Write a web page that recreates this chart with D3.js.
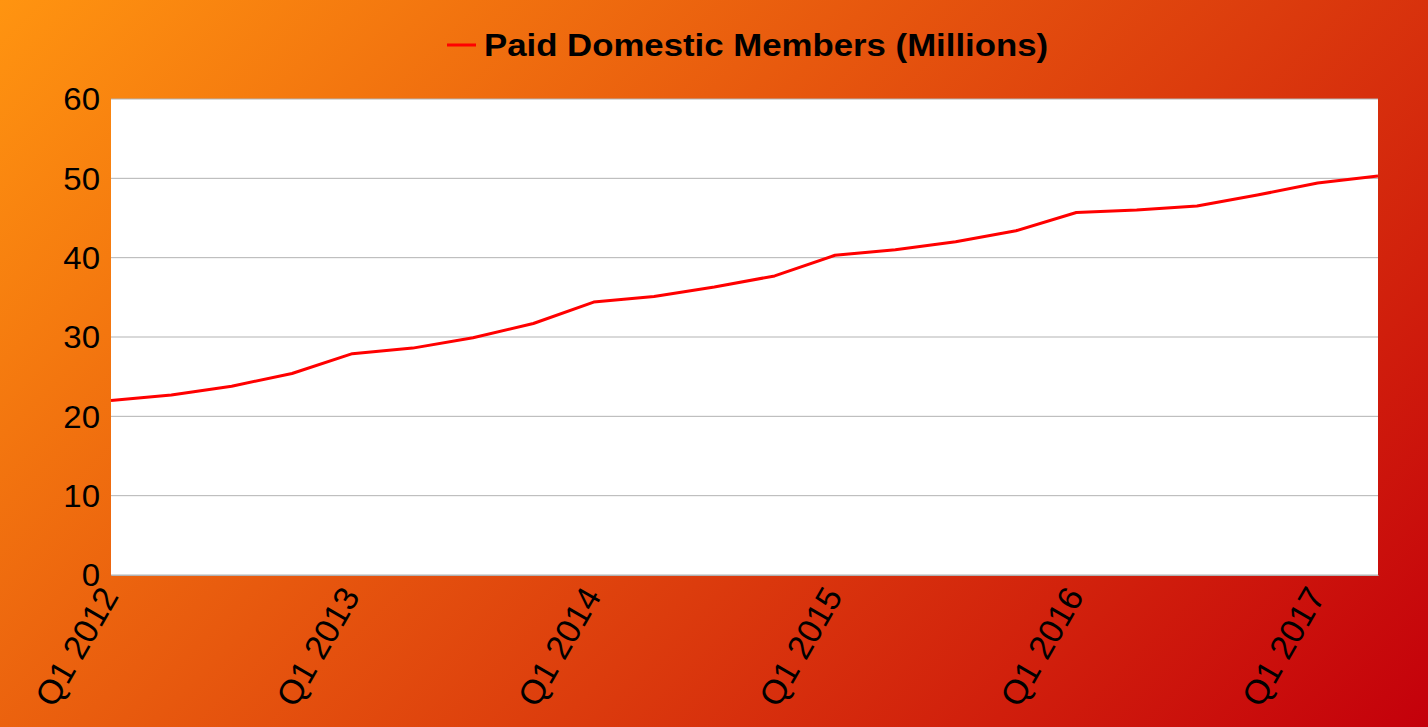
<!DOCTYPE html>
<html><head><meta charset="utf-8">
<script src="https://cdn.jsdelivr.net/npm/d3@7"></script>
<style>html,body{margin:0;padding:0;overflow:hidden;}svg{display:block;}</style>
</head><body>
<script>
const quarters = ["Q1 2012","Q2 2012","Q3 2012","Q4 2012","Q1 2013","Q2 2013","Q3 2013","Q4 2013","Q1 2014","Q2 2014","Q3 2014","Q4 2014","Q1 2015","Q2 2015","Q3 2015","Q4 2015","Q1 2016","Q2 2016","Q3 2016","Q4 2016","Q1 2017","Q2 2017"];
const members = [22.0,22.7,23.8,25.4,27.9,28.6,29.9,31.7,34.4,35.1,36.3,37.7,40.3,41.0,42.0,43.4,45.7,46.0,46.5,47.9,49.4,50.3];
const shownLabels = ["Q1 2012","Q1 2013","Q1 2014","Q1 2015","Q1 2016","Q1 2017"];
const yTicks = [0,10,20,30,40,50,60];
const seriesName = "Paid Domestic Members (Millions)";

const W = 1428, H = 727;
const L = 111, R = 1378, T = 99, B = 575;
const FONT = "Liberation Sans, Arial, sans-serif";
const svg = d3.select("body").append("svg").attr("width", W).attr("height", H);
const defs = svg.append("defs");
const g = defs.append("linearGradient").attr("id","bg").attr("gradientUnits","userSpaceOnUse")
  .attr("x1",0).attr("y1",0).attr("x2",1077).attr("y2",1077);
g.append("stop").attr("offset","0").attr("stop-color","#ff9410");
g.append("stop").attr("offset","1").attr("stop-color","#c4000b");
svg.append("rect").attr("width",W).attr("height",H).attr("fill","url(#bg)");

const x = d3.scalePoint().domain(quarters).range([L, R]);
const y = d3.scaleLinear().domain([0,60]).range([B, T]);

svg.append("rect").attr("x",L).attr("y",T).attr("width",R-L).attr("height",B-T).attr("fill","#fff");

svg.append("g").selectAll("line").data(yTicks).join("line")
  .attr("x1",L).attr("x2",R).attr("y1",d=>y(d)).attr("y2",d=>y(d))
  .attr("stroke","#b3b3b3").attr("stroke-width",1);

// y labels
svg.append("g").selectAll("text").data(yTicks).join("text")
  .attr("transform", d => `translate(100,${y(d)}) scale(1.064,1)`)
  .attr("text-anchor","end").attr("dy","0.36em")
  .attr("font-family",FONT).attr("font-size",31).attr("fill","#000")
  .text(d => d);

const xAxis = svg.append("g").attr("transform",`translate(0,${B})`)
  .call(d3.axisBottom(x).tickValues(shownLabels).tickSize(0));
xAxis.select(".domain").attr("stroke","#b3b3b3");
xAxis.selectAll("text")
  .attr("font-family",FONT).attr("font-size",34).attr("fill","#000")
  .attr("text-anchor","end").attr("dy",0).attr("y",0)
  .attr("transform","translate(8,21) rotate(-60)");

const line = d3.line().x((d,i)=>x(quarters[i])).y(d=>y(d));
svg.append("path").datum(members).attr("d",line).attr("fill","none")
  .attr("stroke","#ff0000").attr("stroke-width",3).attr("stroke-linejoin","round");

svg.append("line").attr("x1",447).attr("x2",476).attr("y1",45).attr("y2",45)
  .attr("stroke","#ff0000").attr("stroke-width",3);
svg.append("text").attr("transform","translate(484,56) scale(1.087,1)").text(seriesName)
  .attr("font-family",FONT).attr("font-size",32).attr("font-weight","bold").attr("fill","#000");
</script>
</body></html>
